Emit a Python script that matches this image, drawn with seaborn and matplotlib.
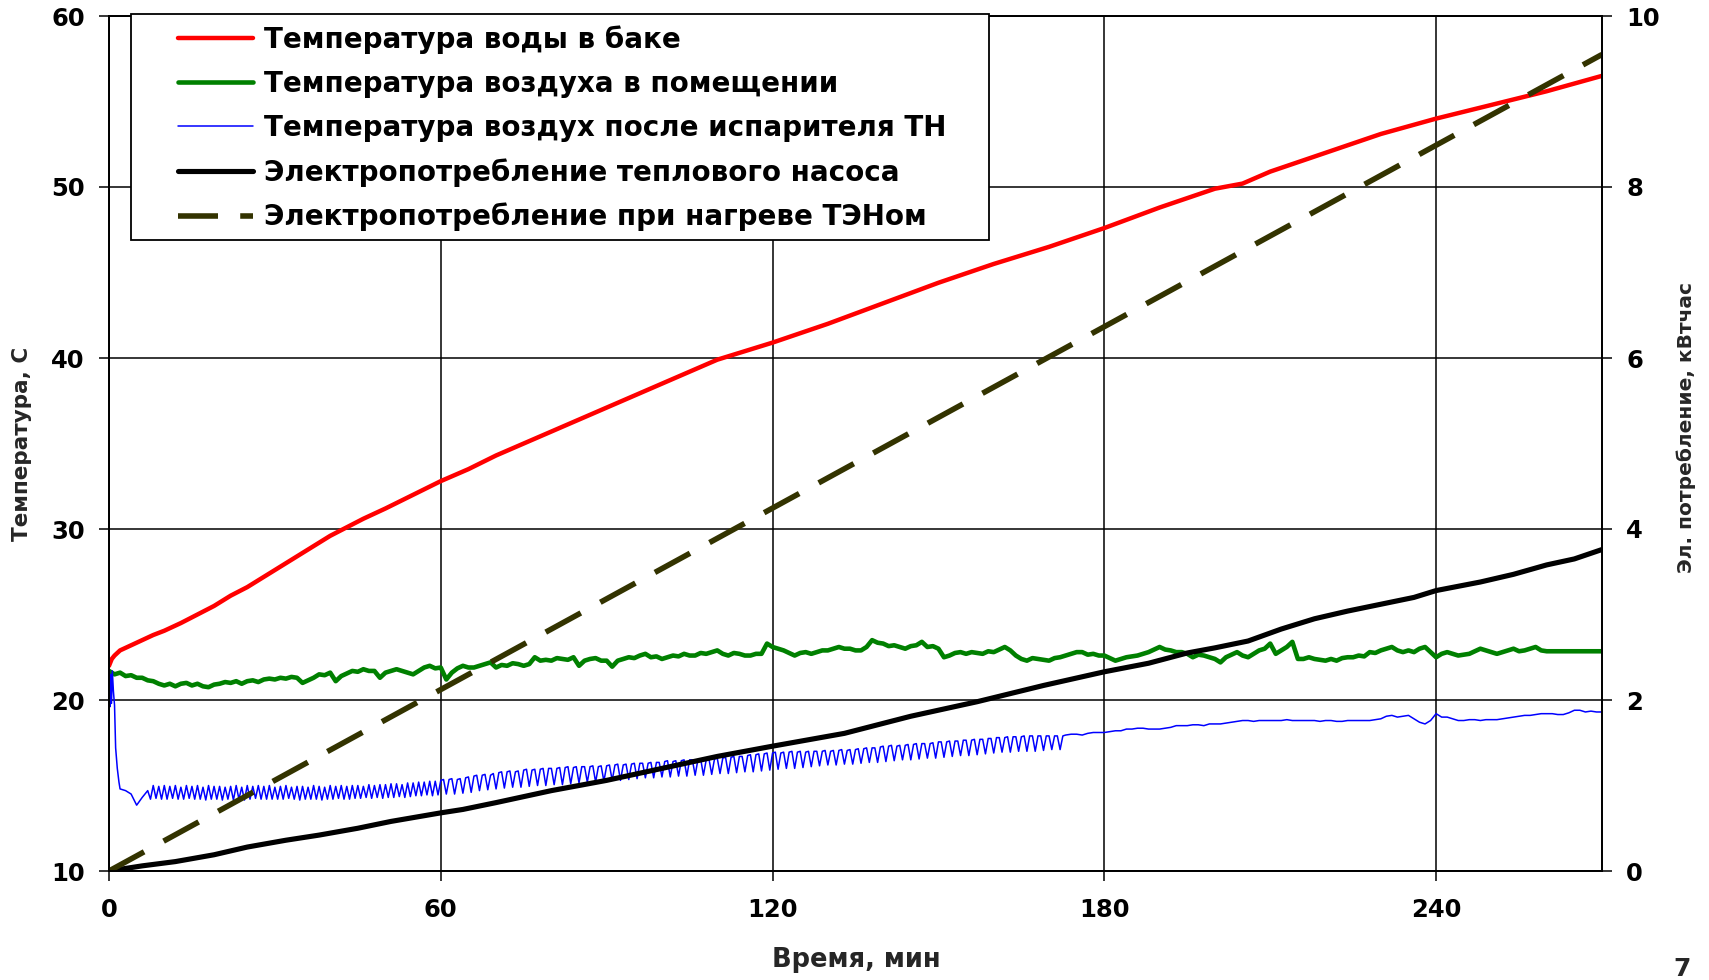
import numpy as np
import pandas as pd
import matplotlib
matplotlib.use("Agg")
import matplotlib.pyplot as plt
import seaborn as sns
from matplotlib.patches import Rectangle

# ---------------- data ----------------
x_ticks = [0, 60, 120, 180, 240]
left_ticks = [10, 20, 30, 40, 50, 60]
right_ticks = [0, 2, 4, 6, 8, 10]

labels = ["Температура воды в баке",
          "Температура воздуха в помещении",
          "Температура воздух после испарителя ТН",
          "Электропотребление теплового насоса",
          "Электропотребление при нагреве ТЭНом"]

# water temperature in tank, C
red_t = [0, 0.5, 1, 2, 4, 6, 8, 10, 13, 16, 19, 22, 25, 28, 31, 34, 37, 40, 43, 46,
         50, 55, 60, 65, 70, 75, 80, 85, 90, 95, 100, 105, 110, 115, 120, 130, 140,
         150, 160, 170, 180, 190, 200, 205, 210, 220, 230, 240, 250, 260, 270]
red_v = [22.0, 22.4, 22.6, 22.9, 23.2, 23.5, 23.8, 24.05, 24.5, 25.0, 25.5, 26.1, 26.6,
         27.2, 27.8, 28.4, 29.0, 29.6, 30.1, 30.6, 31.2, 32.0, 32.8, 33.5, 34.3, 35.0,
         35.7, 36.4, 37.1, 37.8, 38.5, 39.2, 39.9, 40.4, 40.9, 42.0, 43.2, 44.4, 45.5,
         46.5, 47.6, 48.8, 49.9, 50.2, 50.9, 52.0, 53.1, 54.0, 54.8, 55.6, 56.5]

# room air temperature, C (1-min readings from t=0 to 260, then flat to 270)
green_v = [21.7, 21.5, 21.6, 21.4, 21.45, 21.3, 21.3, 21.15, 21.1, 20.95,
           20.85, 20.95, 20.8, 20.95, 21.0, 20.85, 20.95, 20.8, 20.75, 20.9,
           20.95, 21.05, 21.0, 21.1, 20.95, 21.1, 21.15, 21.05, 21.2, 21.25,
           21.2, 21.3, 21.25, 21.35, 21.3, 21.0, 21.15, 21.3, 21.5, 21.45,
           21.6, 21.1, 21.4, 21.55, 21.7, 21.65, 21.8, 21.7, 21.7, 21.3,
           21.6, 21.7, 21.8, 21.7, 21.6, 21.5, 21.7, 21.9, 22.0, 21.85,
           21.9, 21.2, 21.6, 21.85, 22.0, 21.9, 21.9, 22.0, 22.1, 22.2,
           21.9, 22.05, 22.0, 22.15, 22.1, 22.0, 22.1, 22.5, 22.3, 22.35,
           22.3, 22.45, 22.4, 22.35, 22.5, 22.0, 22.3, 22.4, 22.45, 22.3,
           22.3, 21.95, 22.3, 22.4, 22.5, 22.45, 22.6, 22.7, 22.5, 22.55,
           22.4, 22.5, 22.6, 22.55, 22.7, 22.6, 22.6, 22.75, 22.7, 22.8,
           22.9, 22.7, 22.6, 22.75, 22.7, 22.6, 22.6, 22.7, 22.7, 23.3,
           23.1, 23.0, 22.9, 22.75, 22.6, 22.75, 22.8, 22.7, 22.8, 22.9,
           22.9, 23.0, 23.1, 23.0, 23.0, 22.9, 22.9, 23.1, 23.5, 23.35,
           23.3, 23.15, 23.2, 23.1, 23.0, 23.15, 23.2, 23.4, 23.1, 23.15,
           23.0, 22.5, 22.6, 22.75, 22.8, 22.7, 22.8, 22.75, 22.7, 22.85,
           22.8, 22.95, 23.1, 22.9, 22.6, 22.4, 22.3, 22.45, 22.4, 22.35,
           22.3, 22.45, 22.5, 22.6, 22.7, 22.8, 22.8, 22.65, 22.7, 22.6,
           22.6, 22.45, 22.3, 22.4, 22.5, 22.55, 22.6, 22.7, 22.8, 22.95,
           23.1, 22.95, 22.9, 22.8, 22.8, 22.7, 22.5, 22.65, 22.6, 22.5,
           22.4, 22.2, 22.5, 22.65, 22.8, 22.6, 22.5, 22.7, 22.9, 23.0,
           23.3, 22.7, 22.9, 23.1, 23.4, 22.4, 22.4, 22.5, 22.4, 22.35,
           22.3, 22.4, 22.3, 22.45, 22.5, 22.5, 22.6, 22.55, 22.8, 22.75,
           22.9, 23.0, 23.1, 22.9, 22.8, 22.9, 22.8, 23.0, 23.1, 22.8,
           22.5, 22.7, 22.8, 22.7, 22.6, 22.65, 22.7, 22.85, 23.0, 22.9,
           22.8, 22.7, 22.8, 22.9, 23.0, 22.85, 22.9, 23.0, 23.1, 22.9,
           22.85, 22.85]
green_t = list(range(0, len(green_v) - 1)) + [270]

# air temperature after the heat-pump evaporator, C
blue_t_start = [0, 0.15, 0.3, 0.45, 0.6, 0.8, 1.0, 1.2, 1.5, 1.8, 2, 3, 4, 5, 6]
blue_v_start = [22.8, 19.6, 21.5, 19.8, 21.7, 20.5, 19.7, 17.2, 16.0, 15.2,
                14.8, 14.7, 14.5, 13.85, 14.3]
# half-minute readings, t = 7.0 ... 172.5 (oscillating part)
blue_v_osc = [14.7, 14.2, 15.0, 14.25, 14.95, 14.2,
              15.0, 14.2, 14.95, 14.25, 15.0, 14.2, 14.9, 14.2, 15.0, 14.25,
              14.95, 14.2, 15.0, 14.2, 14.9, 14.15, 15.0, 14.2, 14.95, 14.2,
              14.95, 14.15, 14.9, 14.2, 14.95, 14.15, 15.0, 14.2, 14.9, 14.15,
              15.0, 14.2, 14.95, 14.25, 15.0, 14.2, 14.95, 14.2, 15.0, 14.2,
              14.9, 14.2, 14.95, 14.2, 15.0, 14.25, 14.9, 14.2, 14.95, 14.15,
              14.95, 14.2, 14.9, 14.2, 15.0, 14.2, 14.95, 14.15, 14.9, 14.2,
              15.0, 14.2, 14.95, 14.25, 15.0, 14.2, 14.95, 14.2, 15.0, 14.25,
              15.0, 14.25, 14.95, 14.3, 15.05, 14.25, 15.0, 14.3, 15.05, 14.25,
              15.05, 14.3, 15.1, 14.3, 15.1, 14.35, 15.05, 14.3, 15.15, 14.35,
              15.15, 14.4, 15.2, 14.4, 15.2, 14.45, 15.25, 14.4, 15.25, 14.45,
              15.3, 15.35, 14.5, 15.35, 15.4, 14.5, 15.35, 15.4, 14.55, 15.45,
              15.5, 14.6, 15.55, 15.6, 14.7, 15.6, 15.65, 14.75, 15.6, 15.7,
              14.8, 15.75, 15.8, 14.85, 15.8, 15.85, 14.9, 15.8, 15.85, 14.9,
              15.9, 15.95, 14.95, 15.9, 15.95, 15.0, 15.95, 16.0, 15.0, 16.0,
              16.0, 15.05, 16.0, 16.05, 15.05, 16.05, 16.1, 15.1, 16.05, 16.1,
              15.15, 16.1, 16.1, 15.2, 16.1, 16.15, 15.2, 16.1, 16.15, 15.25,
              16.15, 16.2, 15.3, 16.2, 16.25, 15.3, 16.2, 16.25, 15.35, 16.25,
              16.3, 15.4, 16.3, 16.3, 15.45, 16.3, 16.35, 15.45, 16.35, 16.35,
              15.5, 16.4, 16.45, 15.5, 16.4, 16.45, 15.55, 16.45, 16.5, 15.55,
              16.5, 16.5, 15.6, 16.5, 16.55, 15.6, 16.5, 16.55, 15.65, 16.55,
              16.6, 15.7, 16.6, 16.65, 15.7, 16.65, 16.7, 15.75, 16.7, 16.7,
              15.8, 16.75, 16.8, 15.8, 16.8, 16.85, 15.85, 16.85, 16.9, 15.9,
              16.9, 16.95, 15.95, 16.9, 16.95, 16.0, 16.95, 17.0, 16.0, 16.95,
              17.0, 16.05, 16.95, 17.0, 16.1, 17.0, 17.0, 16.15, 17.0, 17.05,
              16.2, 17.0, 17.05, 16.2, 17.05, 17.1, 16.25, 17.05, 17.1, 16.25,
              17.1, 17.15, 16.3, 17.15, 17.2, 16.35, 17.2, 17.2, 16.35, 17.25,
              17.3, 16.4, 17.3, 17.35, 16.45, 17.3, 17.35, 16.5, 17.35, 17.4,
              16.5, 17.4, 17.45, 16.55, 17.45, 17.45, 16.6, 17.45, 17.5, 16.6,
              17.55, 17.55, 16.65, 17.55, 17.6, 16.7, 17.6, 17.6, 16.75, 17.65,
              17.65, 16.75, 17.65, 17.7, 16.8, 17.7, 17.7, 16.85, 17.75, 17.75,
              16.9, 17.8, 17.8, 16.95, 17.8, 17.85, 16.95, 17.85, 17.85, 17.0,
              17.85, 17.9, 17.0, 17.9, 17.9, 17.0, 17.9, 17.9, 17.05, 17.9,
              17.9, 17.1, 17.9, 17.9, 17.1, 17.9]
# one-minute readings, t = 173 ... 270 (smooth part)
blue_v_tail = [17.95, 18.0, 18.0, 17.95, 18.05, 18.1, 18.1,
               18.1, 18.15, 18.2, 18.2, 18.3, 18.3, 18.35, 18.35, 18.3, 18.3,
               18.3, 18.35, 18.4, 18.5, 18.5, 18.5, 18.55, 18.55, 18.5, 18.6,
               18.6, 18.6, 18.65, 18.7, 18.75, 18.8, 18.8, 18.75, 18.8, 18.8,
               18.8, 18.8, 18.8, 18.85, 18.8, 18.8, 18.8, 18.8, 18.8, 18.75,
               18.8, 18.8, 18.75, 18.75, 18.8, 18.8, 18.8, 18.8, 18.8, 18.85,
               18.9, 19.05, 19.1, 19.0, 19.05, 19.1, 18.9, 18.7, 18.6, 18.8,
               19.2, 19.0, 19.0, 18.9, 18.8, 18.8, 18.85, 18.85, 18.8, 18.85,
               18.85, 18.85, 18.9, 18.95, 19.0, 19.05, 19.1, 19.1, 19.15, 19.2,
               19.2, 19.2, 19.15, 19.15, 19.25, 19.4, 19.4, 19.3, 19.35, 19.3, 19.3]
blue_t = (blue_t_start
          + [7 + 0.5 * i for i in range(len(blue_v_osc))]
          + list(range(173, 173 + len(blue_v_tail))))
blue_v = blue_v_start + blue_v_osc + blue_v_tail

# heat pump electricity consumption, kWh
black_t = [0, 6, 12, 19, 25, 32, 38, 45, 51, 60, 64, 70, 80, 90, 100, 110, 120, 133,
           145, 157, 169, 180, 188, 195, 200, 206, 212, 218, 224, 230, 236, 240, 248,
           254, 260, 265, 270]
black_v = [0.0, 0.06, 0.11, 0.19, 0.28, 0.36, 0.42, 0.50, 0.58, 0.68, 0.72, 0.80, 0.94,
           1.06, 1.20, 1.34, 1.46, 1.61, 1.81, 1.98, 2.17, 2.33, 2.43, 2.55, 2.61, 2.69,
           2.83, 2.95, 3.04, 3.12, 3.20, 3.28, 3.38, 3.47, 3.58, 3.65, 3.76]

# electricity consumption with electric heater, kWh
ten_t = [0, 270]
ten_v = [0.0, 9.55]

# ---------------- styling ----------------
sns.set_theme(style="white")
plt.rcParams["font.family"] = ["DejaVu Sans"]
plt.rcParams["font.weight"] = "bold"
plt.rcParams["axes.labelweight"] = "bold"

W, H = 1709, 980
fig = plt.figure(figsize=(W / 100, H / 100), dpi=100)
fig.patch.set_facecolor("white")
L, R, T, B = 109, 1602, 16, 871
ax = fig.add_axes([L / W, 1 - B / H, (R - L) / W, (B - T) / H])
ax2 = ax.twinx()

sns.lineplot(x=red_t, y=red_v, ax=ax, color="#ff0000", lw=3.2, label=labels[0],
             errorbar=None)
sns.lineplot(x=green_t, y=green_v, ax=ax, color="#008000", lw=3.3, label=labels[1],
             errorbar=None)
sns.lineplot(x=blue_t, y=blue_v, ax=ax, color="#0000ff", lw=1.1, label=labels[2],
             errorbar=None)
sns.lineplot(x=black_t, y=black_v, ax=ax2, color="black", lw=3.7, label=labels[3],
             errorbar=None)
sns.lineplot(x=ten_t, y=ten_v, ax=ax2, color="#333300", lw=4.0, label=labels[4],
             errorbar=None)
ax2.lines[-1].set_dashes((7.2, 4.0))

for a in (ax, ax2):
    if a.get_legend() is not None:
        a.get_legend().remove()

ax.set_xlim(0, 270)
ax.set_ylim(10, 60)
ax2.set_ylim(0, 10)
ax.set_xticks(x_ticks)
ax.set_yticks(left_ticks)
ax2.set_yticks(right_ticks)
ax.set_xticklabels([str(v) for v in x_ticks])
ax.set_yticklabels([str(v) for v in left_ticks])
ax2.set_yticklabels([str(v) for v in right_ticks])

ax.grid(True, color="black", lw=1.1)
ax.set_axisbelow(True)
ax2.grid(False)

for a in (ax, ax2):
    for s in a.spines.values():
        s.set_color("black")
        s.set_linewidth(1.3)
        s.set_visible(True)

ax.tick_params(axis="x", bottom=True, direction="out", length=7.5, width=1.1,
               color="black", labelsize=17.5, pad=12, labelcolor="black")
ax.tick_params(axis="y", left=True, direction="out", length=7.5, width=1.1,
               color="black", labelsize=17.5, pad=10, labelcolor="black")
ax2.tick_params(axis="y", right=True, direction="out", length=7.5, width=1.1,
                color="black", labelsize=17.5, pad=10, labelcolor="black")
for lab in ax.get_xticklabels() + ax.get_yticklabels() + ax2.get_yticklabels():
    lab.set_fontweight("bold")

ax.set_xlabel("Время, мин", fontsize=18.5, fontweight="bold", va="center")
ax.set_ylabel("Температура, С", fontsize=15.5, fontweight="bold", va="center")
ax2.set_ylabel("Эл. потребление, кВтчас", fontsize=14.5, fontweight="bold",
               va="center", rotation=90)
ax.xaxis.set_label_coords((856 - L) / (R - L), (B - 960) / (B - T))
ax.yaxis.set_label_coords((22 - L) / (R - L), (B - 444) / (B - T))
ax2.yaxis.set_label_coords((1686 - L) / (R - L), (B - 427) / (B - T))

# legend with separate frame box
handles = ax.get_lines()[:3] + ax2.get_lines()[:2]
frame = Rectangle(((131 - L) / (R - L), (B - 240) / (B - T)),
                  (989 - 131) / (R - L), (240 - 14) / (B - T),
                  transform=ax2.transAxes, facecolor="white", edgecolor="black",
                  lw=1.3, clip_on=False, zorder=19)
ax2.add_patch(frame)
leg = ax2.legend(handles, labels, loc="upper left",
                 bbox_to_anchor=((178 - L) / (R - L), (B - 25) / (B - T)),
                 bbox_transform=ax2.transAxes, frameon=False, fontsize=20,
                 handlelength=2.7, handletextpad=0.4, labelspacing=0.58,
                 borderpad=0, borderaxespad=0)
leg.set_zorder(20)
for txt in leg.get_texts():
    txt.set_fontweight("bold")
    txt.set_color("black")

fig.text(1682 / W, 1 - 969 / H, "7", fontsize=18, fontweight="bold",
         ha="center", va="center")

fig.savefig("out.png", dpi=100)
